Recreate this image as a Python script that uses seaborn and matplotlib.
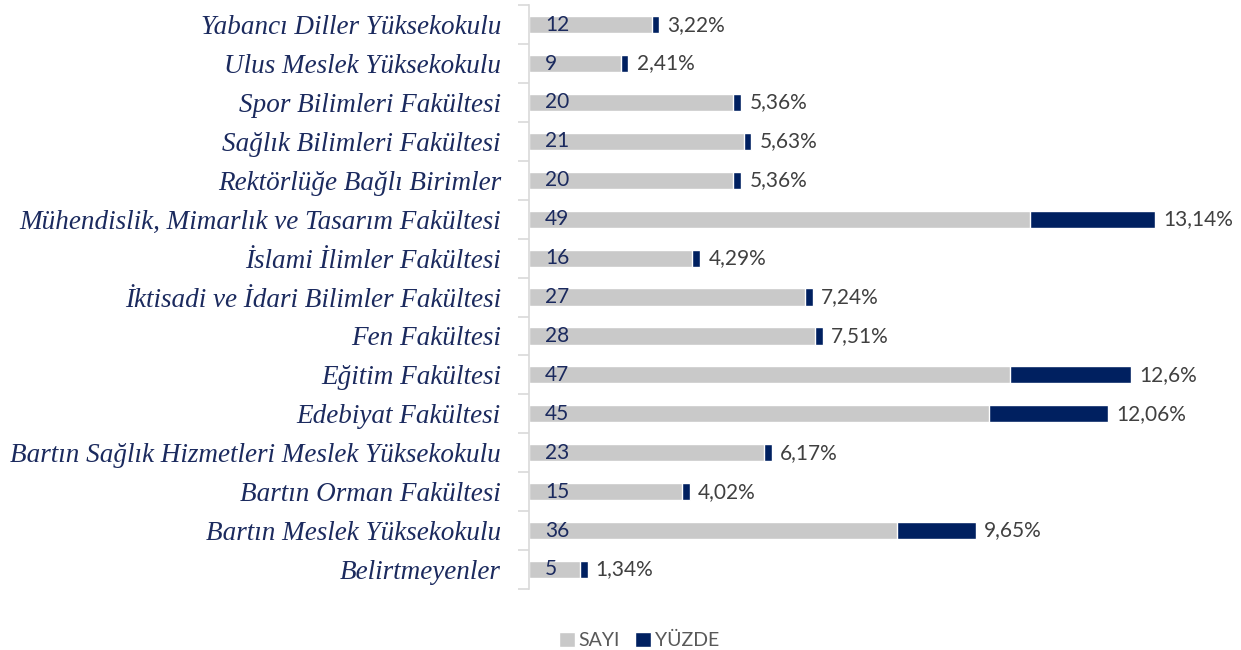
#!/usr/bin/env python3
"""
Horizontal stacked bar chart: participant count (SAYI) and share (YÜZDE) by faculty.
"""
import pandas as pd
import numpy as np
import matplotlib
matplotlib.use("Agg")
import matplotlib.pyplot as plt
from matplotlib.patches import Patch
import seaborn as sns

# Data (top to bottom as in the chart)
units = [
    "Yabancı Diller Yüksekokulu",
    "Ulus Meslek Yüksekokulu",
    "Spor Bilimleri Fakültesi",
    "Sağlık Bilimleri Fakültesi",
    "Rektörlüğe Bağlı Birimler",
    "Mühendislik, Mimarlık ve Tasarım Fakültesi",
    "İslami İlimler Fakültesi",
    "İktisadi ve İdari Bilimler Fakültesi",
    "Fen Fakültesi",
    "Eğitim Fakültesi",
    "Edebiyat Fakültesi",
    "Bartın Sağlık Hizmetleri Meslek Yüksekokulu",
    "Bartın Orman Fakültesi",
    "Bartın Meslek Yüksekokulu",
    "Belirtmeyenler",
]
sayi = [12, 9, 20, 21, 20, 49, 16, 27, 28, 47, 45, 23, 15, 36, 5]
yuzde = [3.22, 2.41, 5.36, 5.63, 5.36, 13.14, 4.29, 7.24, 7.51, 12.6, 12.06, 6.17, 4.02, 9.65, 1.34]
# drawn length of the navy segment
yuzde_bar = [0.75, 0.75, 0.75, 0.75, 0.75, 12.2, 0.75, 0.75, 0.75, 11.8, 11.6, 0.75, 0.75, 7.7, 0.75]

GRAY = "#C9C9C9"
NAVY = "#002060"
LABEL_NAVY = "#1B2A5E"
TEXT_GRAY = "#404040"

df = pd.DataFrame({"unit": units, "sayi": sayi, "yuzde": yuzde, "yuzde_bar": yuzde_bar})
df["total"] = df["sayi"] + df["yuzde_bar"]

sns.set_style("white")
plt.rcParams["font.family"] = ["Lato", "DejaVu Sans"]

fig = plt.figure(figsize=(12.41, 6.5), dpi=100)
ax = fig.add_axes([0.426, 0.094, 0.561, 0.898])

# navy (full length) underneath, gray count on top -> stacked look
sns.barplot(data=df, y="unit", x="total", color=NAVY, orient="h",
            width=0.44, saturation=1, ax=ax)
sns.barplot(data=df, y="unit", x="sayi", color=GRAY, orient="h",
            width=0.44, saturation=1, ax=ax)

ax.set_xlim(0, 68)
ax.set_ylim(len(units) - 0.5, -0.5)
ax.set_xlabel("")
ax.set_ylabel("")
ax.set_xticks([])

# category labels
ax.tick_params(axis="y", which="major", length=0, pad=20)
for lbl in ax.get_yticklabels():
    lbl.set_fontfamily(["Liberation Serif", "DejaVu Serif"])
    lbl.set_fontstyle("italic")
    lbl.set_fontsize(19.5)
    lbl.set_color(LABEL_NAVY)

# tick marks between categories
ax.set_yticks(np.arange(-0.5, len(units), 1), minor=True)
ax.tick_params(axis="y", which="minor", left=True, length=8, color="#D9D9D9", width=1.2)

for side in ["top", "right", "bottom"]:
    ax.spines[side].set_visible(False)
ax.spines["left"].set_color("#D9D9D9")
ax.spines["left"].set_linewidth(1.2)

# value labels
for i, row in df.iterrows():
    ax.text(1.6, i, f"{row['sayi']}", va="center", ha="left",
            fontsize=15, color=LABEL_NAVY)
    pct = f"{row['yuzde']:g}".replace(".", ",") + "%"
    ax.text(row["total"] + 0.8, i, pct, va="center", ha="left",
            fontsize=15, color=TEXT_GRAY)

handles = [Patch(facecolor=GRAY, label="SAYI"), Patch(facecolor=NAVY, label="YÜZDE")]
fig.legend(handles=handles, loc="center", bbox_to_anchor=(0.515, 0.015),
           ncol=2, frameon=False, fontsize=14, handlelength=0.8, handleheight=0.8,
           handletextpad=0.2, columnspacing=0.8, labelcolor="#595959")

fig.savefig("out.png", dpi=100)
plt.close(fig)
